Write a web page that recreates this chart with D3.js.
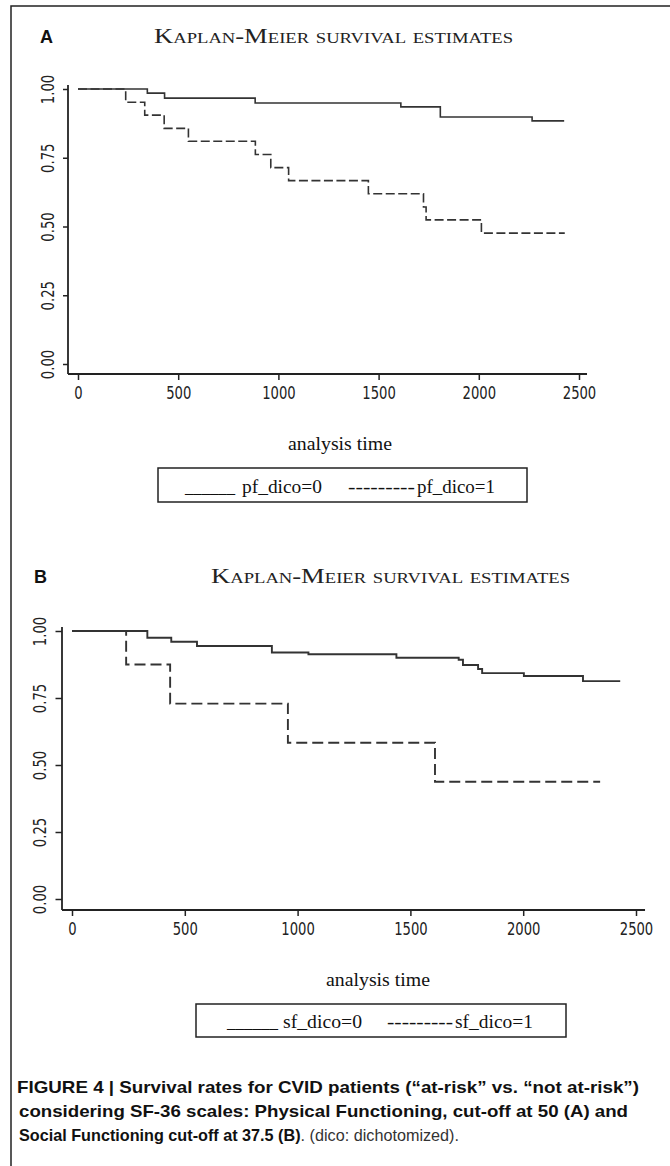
<!DOCTYPE html>
<html>
<head>
<meta charset="utf-8">
<title>Kaplan-Meier</title>
<style>
  body { margin: 0; background: #fff; }
  .tick line { stroke: #222; stroke-width: 1.5; }
  .tick text { font-family: "Liberation Sans Narrow", "Arial Narrow", "DejaVu Sans Condensed", sans-serif; font-size: 17px; fill: #222; }
  .ttl { font-family: "Liberation Serif", "Times New Roman", serif; font-variant: small-caps; fill: #222; }
  .serif { font-family: "Liberation Serif", "Times New Roman", serif; fill: #111; }
  .cap { font-family: "Liberation Sans Narrow", "Arial Narrow", sans-serif; fill: #111; }
</style>
</head>
<body>
<svg width="670" height="1166"></svg>
<script src="https://d3js.org/d3.v7.min.js"></script>
<script>
var svg = d3.select("svg");

// x ticks (analysis time) and y ticks (survival)
var xTicks = [0, 500, 1000, 1500, 2000, 2500];
var yTicks = [0, 0.25, 0.5, 0.75, 1];

// panel A: physical functioning
var pfTime0 = [0, 346, 432, 884, 1611, 1808, 2266, 2426];
var pfSurv0 = [1, 0.985, 0.967, 0.949, 0.935, 0.898, 0.884, 0.884];
var pfTime1 = [0, 238, 333, 430, 551, 885, 962, 1051, 1449, 1724, 1737, 2013, 2429];
var pfSurv1 = [1, 0.952, 0.905, 0.857, 0.810, 0.762, 0.714, 0.667, 0.619, 0.571, 0.524, 0.476, 0.476];

// panel B: social functioning
var sfTime0 = [0, 334, 440, 554, 886, 1048, 1438, 1714, 1733, 1800, 1818, 2003, 2265, 2430];
var sfSurv0 = [1, 0.975, 0.96, 0.944, 0.92, 0.913, 0.90, 0.893, 0.873, 0.858, 0.843, 0.832, 0.813, 0.813];
var sfTime1 = [0, 240, 435, 957, 1609, 2341];
var sfSurv1 = [1, 0.875, 0.729, 0.583, 0.4375, 0.4375];

var legendA = ["pf_dico=0", "pf_dico=1"];
var legendB = ["sf_dico=0", "sf_dico=1"];

// frame (top + left edges)
svg.append("path").attr("d", "M11,1166V6H670")
  .attr("fill", "none").attr("stroke", "#222").attr("stroke-width", 1.5);

// squeeze tick labels a bit, they are condensed in the original
function narrow(sel) {
  sel.each(function () {
    var w = this.getComputedTextLength();
    d3.select(this).attr("textLength", w * 0.86).attr("lengthAdjust", "spacingAndGlyphs");
  });
}

function panel(o) {
  var x = d3.scaleLinear().domain([0, 2500]).range(o.xr);
  var y = d3.scaleLinear().domain([0, 1]).range(o.yr);
  var g = svg.append("g");

  g.append("text").attr("x", o.letterX).attr("y", o.titleY)
    .attr("font-family", "Liberation Sans, Arial, sans-serif")
    .attr("font-weight", "bold").attr("font-size", 18).attr("fill", "#111")
    .text(o.letter);

  g.append("text").attr("class", "ttl").attr("x", o.titleX).attr("y", o.titleY)
    .attr("font-size", 20).attr("textLength", 359).attr("lengthAdjust", "spacingAndGlyphs")
    .text("Kaplan-Meier survival estimates");

  // axis lines
  g.append("line").attr("x1", o.axX).attr("x2", o.axX)
    .attr("y1", y(1) - 4).attr("y2", o.axY)
    .attr("stroke", "#222").attr("stroke-width", 1.8);
  g.append("line").attr("x1", o.axX).attr("x2", x(2540))
    .attr("y1", o.axY).attr("y2", o.axY)
    .attr("stroke", "#222").attr("stroke-width", 1.8);

  var gx = g.append("g").attr("transform", "translate(0," + o.axY + ")")
    .call(d3.axisBottom(x).tickValues(xTicks).tickSize(6).tickFormat(d3.format("d")));
  gx.select(".domain").remove();
  gx.selectAll("text").attr("y", 25).attr("dy", 0).call(narrow);

  var gy = g.append("g").attr("transform", "translate(" + o.axX + ",0)")
    .call(d3.axisLeft(y).tickValues(yTicks).tickSize(o.yTick).tickFormat(d3.format(".2f")));
  gy.select(".domain").remove();
  gy.selectAll("text")
    .attr("x", 0).attr("y", 0).attr("dy", 0)
    .attr("text-anchor", "middle")
    .attr("transform", "translate(" + o.yLab + ",0) rotate(-90)")
    .call(narrow);

  var line = d3.line().curve(d3.curveStepAfter)
    .x(function (d) { return x(d[0]); })
    .y(function (d) { return y(d[1]); });

  g.append("path").datum(d3.zip(o.t0, o.s0)).attr("d", line)
    .attr("fill", "none").attr("stroke", "#333").attr("stroke-width", o.sw);
  g.append("path").datum(d3.zip(o.t1, o.s1)).attr("d", line)
    .attr("fill", "none").attr("stroke", "#333").attr("stroke-width", o.sw)
    .attr("stroke-dasharray", o.dash);

  g.append("text").attr("class", "serif").attr("x", o.atX).attr("y", o.atY)
    .attr("text-anchor", "middle").attr("font-size", 18)
    .attr("textLength", 104).attr("lengthAdjust", "spacingAndGlyphs")
    .text("analysis  time");

  // legend box
  var L = o.leg;
  g.append("rect").attr("x", L.x0).attr("y", L.y0)
    .attr("width", L.x1 - L.x0).attr("height", L.y1 - L.y0)
    .attr("fill", "#fff").attr("stroke", "#222").attr("stroke-width", 1.5);
  var parts = [
    ["______", L.p[0], L.p[1]],
    [o.labels[0], L.p[2], L.p[3]],
    ["---------", L.p[4], L.p[5]],
    [o.labels[1], L.p[6], L.p[7]]
  ];
  g.selectAll(".legtxt").data(parts).enter().append("text")
    .attr("class", "serif legtxt")
    .attr("x", function (d) { return d[1]; })
    .attr("y", L.base)
    .attr("font-size", 19)
    .attr("textLength", function (d) { return d[2] - d[1]; })
    .attr("lengthAdjust", "spacingAndGlyphs")
    .text(function (d) { return d[0]; });
}

panel({
  letter: "A", letterX: 40, titleX: 154, titleY: 43,
  xr: [78, 579], yr: [364, 89], axX: 68, axY: 374, yTick: 5, yLab: -14,
  t0: pfTime0, s0: pfSurv0, t1: pfTime1, s1: pfSurv1, sw: 1.6, dash: "9,3.5",
  atX: 340, atY: 450, labels: legendA,
  leg: { x0: 158, x1: 527, y0: 468, y1: 502, base: 493,
         p: [185, 235, 242, 322, 348, 415, 417, 495] }
});

panel({
  letter: "B", letterX: 34, titleX: 211, titleY: 583,
  xr: [72, 636], yr: [899, 631], axX: 62, axY: 910, yTick: 6.5, yLab: -16,
  t0: sfTime0, s0: sfSurv0, t1: sfTime1, s1: sfSurv1, sw: 1.9, dash: "11,5",
  atX: 378, atY: 986, labels: legendB,
  leg: { x0: 196, x1: 566, y0: 1004, y1: 1037, base: 1028,
         p: [227, 278, 283, 362, 387, 453, 455, 533] }
});

// caption
var cap = svg.append("g").attr("class", "cap").attr("font-size", 17);
cap.append("text").attr("x", 17).attr("y", 1093).attr("font-weight", "bold")
  .attr("textLength", 622).attr("lengthAdjust", "spacingAndGlyphs")
  .text("FIGURE 4 | Survival rates for CVID patients (\u201cat-risk\u201d vs. \u201cnot at-risk\u201d)");
cap.append("text").attr("x", 19).attr("y", 1117).attr("font-weight", "bold")
  .attr("textLength", 609).attr("lengthAdjust", "spacingAndGlyphs")
  .text("considering SF-36 scales: Physical Functioning, cut-off at 50 (A) and");
var l3 = cap.append("text").attr("x", 19).attr("y", 1141)
  .attr("textLength", 440).attr("lengthAdjust", "spacingAndGlyphs");
l3.append("tspan").attr("font-weight", "bold").text("Social Functioning cut-off at 37.5 (B)");
l3.append("tspan").attr("fill", "#333").text(". (dico: dichotomized).");
</script>
</body>
</html>
